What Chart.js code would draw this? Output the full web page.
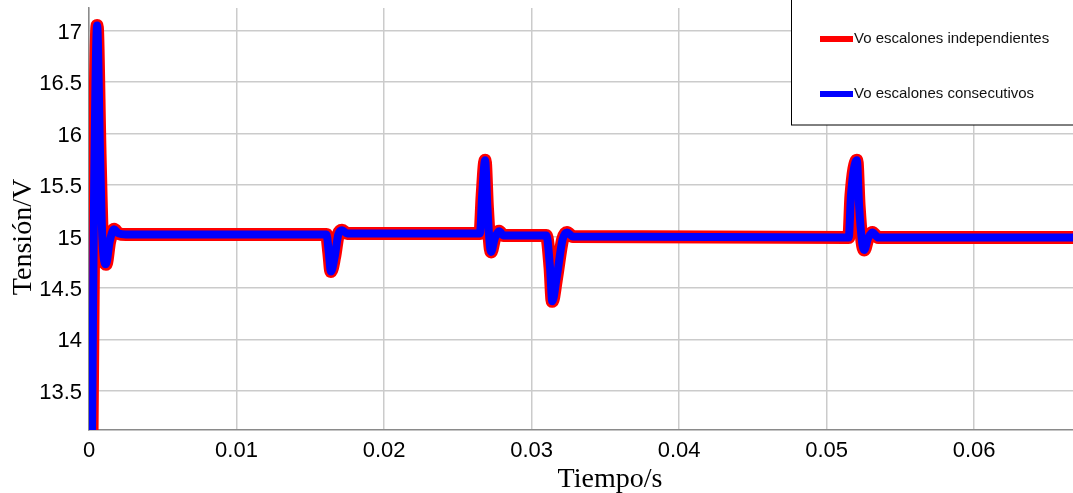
<!DOCTYPE html>
<html>
<head>
<meta charset="utf-8">
<script src="https://cdn.jsdelivr.net/npm/chart.js@4"></script>
<style>
html,body{margin:0;padding:0;background:#fff;}
#wrap{width:1073px;height:493px;position:relative;}
</style>
</head>
<body>
<div id="wrap"><canvas id="c" width="1073" height="493"></canvas></div>
<script>
// ---- data ----
const timeS = [0, 0.0002, 0.00035, 0.00055, 0.00075, 0.0009, 0.00115, 0.0014, 0.0017, 0.002, 0.0025,
  0.0161, 0.01625, 0.0164, 0.01665, 0.0169, 0.01715, 0.0175,
  0.0265, 0.02665, 0.02685, 0.0270, 0.02715, 0.02725, 0.0275, 0.0278, 0.0281,
  0.0310, 0.03125, 0.0314, 0.0317, 0.0321, 0.0324, 0.0328,
  0.0515, 0.05165, 0.05205, 0.0522, 0.0524, 0.05255, 0.0528, 0.0531, 0.0535,
  0.0667];
const vIndep = [10.5, 13.0, 15.5, 17.05, 15.8, 15.0, 14.73, 14.95, 15.07, 15.03, 15.02,
  15.02, 14.85, 14.66, 14.8, 15.02, 15.06, 15.03,
  15.03, 15.4, 15.74, 15.3, 14.95, 14.85, 14.98, 15.05, 15.01,
  15.01, 14.7, 14.37, 14.6, 14.97, 15.04, 15.0,
  14.99, 15.4, 15.74, 15.3, 14.95, 14.87, 14.98, 15.04, 14.99,
  14.99];
const vConsec = [10.5, 13.0, 15.5, 17.05, 15.8, 15.0, 14.73, 14.95, 15.07, 15.03, 15.02,
  15.02, 14.85, 14.66, 14.8, 15.02, 15.06, 15.03,
  15.03, 15.4, 15.74, 15.3, 14.95, 14.85, 14.98, 15.05, 15.01,
  15.01, 14.7, 14.37, 14.6, 14.97, 15.04, 15.0,
  14.99, 15.4, 15.74, 15.3, 14.95, 14.87, 14.98, 15.04, 14.99,
  14.99];
const xTicks = [0, 0.01, 0.02, 0.03, 0.04, 0.05, 0.06];
const xTickLabels = ['0', '0.01', '0.02', '0.03', '0.04', '0.05', '0.06'];
const yTicks = [13.5, 14, 14.5, 15, 15.5, 16, 16.5, 17];
const yTickLabels = ['13.5', '14', '14.5', '15', '15.5', '16', '16.5', '17'];
const seriesNames = ['Vo escalones independientes', 'Vo escalones consecutivos'];
const xTitle = 'Tiempo/s';
const yTitle = 'Tensión/V';

const toPts = (vals) => timeS.map((t, i) => ({x: t, y: vals[i]}));

const overlay = {
  id: 'overlay',
  afterDraw(chart) {
    const ctx = chart.ctx;
    ctx.save();
    // axis titles
    ctx.fillStyle = '#000';
    ctx.font = '28px "Liberation Serif", "Times New Roman", serif';
    ctx.textAlign = 'center';
    ctx.textBaseline = 'alphabetic';
    ctx.fillText(xTitle, 610, 487);
    ctx.save();
    ctx.translate(31, 237);
    ctx.rotate(-Math.PI / 2);
    ctx.fillText(yTitle, 0, 0);
    ctx.restore();
    // legend box
    ctx.fillStyle = '#fff';
    ctx.fillRect(791, -2, 290, 127);
    ctx.strokeStyle = '#000';
    ctx.lineWidth = 1;
    ctx.strokeRect(791.5, -2, 290, 127);
    const colors = ['#ff0000', '#0000ff'];
    const ys = [39, 94];
    ctx.font = '15px "Liberation Sans", Arial, sans-serif';
    ctx.textAlign = 'left';
    ctx.textBaseline = 'middle';
    for (let i = 0; i < 2; i++) {
      ctx.strokeStyle = colors[i];
      ctx.lineWidth = 6;
      ctx.beginPath();
      ctx.moveTo(820, ys[i]);
      ctx.lineTo(853, ys[i]);
      ctx.stroke();
      ctx.fillStyle = '#111';
      ctx.fillText(seriesNames[i], 854, ys[i]);
    }
    ctx.restore();
  }
};

new Chart(document.getElementById('c'), {
  type: 'line',
  data: {
    datasets: [
      {label: seriesNames[0], data: toPts(vIndep), borderColor: '#ff0000', borderWidth: 13,
       pointRadius: 0, cubicInterpolationMode: 'monotone', borderJoinStyle: 'round', borderCapStyle: 'round', order: 2},
      {label: seriesNames[1], data: toPts(vConsec), borderColor: '#0000ff', borderWidth: 8,
       pointRadius: 0, cubicInterpolationMode: 'monotone', borderJoinStyle: 'round', borderCapStyle: 'round', order: 1}
    ]
  },
  options: {
    responsive: false,
    animation: false,
    devicePixelRatio: 1,
    layout: {padding: {top: 8, right: 0, left: 0, bottom: 0}},
    plugins: {legend: {display: false}, tooltip: {enabled: false}},
    scales: {
      x: {
        type: 'linear', min: 0, max: 0.0667,
        afterBuildTicks: (s) => { s.ticks = xTicks.map(v => ({value: v})); },
        afterFit: (s) => { s.height = 63; s.paddingLeft = 0; s.paddingRight = 0; },
        ticks: {
          color: '#000', padding: 8, maxRotation: 0, autoSkip: false,
          font: {family: '"Liberation Sans", Arial, sans-serif', size: 22},
          callback: (v) => { const i = xTicks.indexOf(v); return i >= 0 ? xTickLabels[i] : ''; }
        },
        grid: {color: '#cbcbcb', lineWidth: 1.5, drawTicks: false},
        border: {color: '#8a8a8a', width: 1.5}
      },
      y: {
        type: 'linear', min: 13.12, max: 17.22,
        afterBuildTicks: (s) => { s.ticks = yTicks.map(v => ({value: v})); },
        afterFit: (s) => { s.width = 89; s.paddingTop = 0; s.paddingBottom = 0; },
        ticks: {
          color: '#000', padding: 7, autoSkip: false, labelOffset: 2,
          font: {family: '"Liberation Sans", Arial, sans-serif', size: 22},
          callback: (v) => { const i = yTicks.indexOf(v); return i >= 0 ? yTickLabels[i] : ''; }
        },
        grid: {color: '#cbcbcb', lineWidth: 1.5, drawTicks: false},
        border: {color: '#8a8a8a', width: 1.5}
      }
    }
  },
  plugins: [overlay]
});
</script>
</body>
</html>
